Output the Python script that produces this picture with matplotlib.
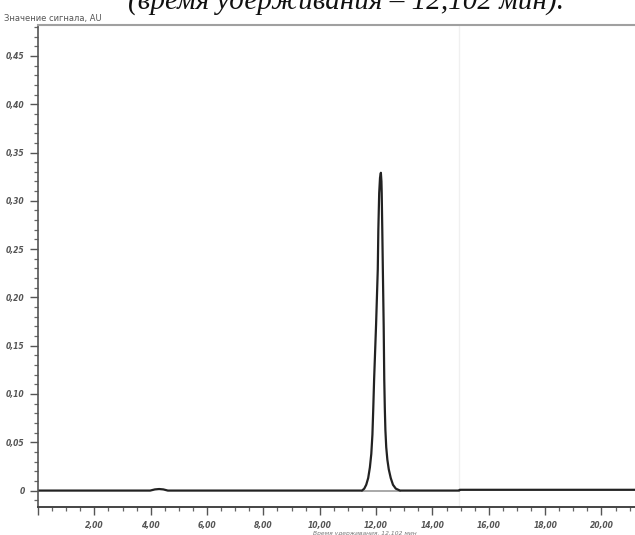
# chromatogram recreation: single peak at ~12.1 min
import matplotlib
matplotlib.use("Agg")
from matplotlib import pyplot as plt
from matplotlib.ticker import MultipleLocator, FuncFormatter

# trace points (time, min / signal, AU)
time = [0.0, 3.98, 4.15, 4.30, 4.45, 4.61,
        11.50, 11.58, 11.65, 11.72, 11.78, 11.83, 11.87, 11.90, 11.93,
        12.00, 12.06, 12.08, 12.11, 12.14,
        12.17,
        12.19, 12.20, 12.22, 12.24, 12.27, 12.29, 12.31, 12.33, 12.36, 12.40,
        12.45, 12.52, 12.60, 12.70, 12.85,
        14.95, 14.97, 21.3]
signal = [0.0, 0.0, 0.0012, 0.0016, 0.0012, 0.0,
          0.0, 0.002, 0.006, 0.013, 0.024, 0.038, 0.058, 0.085, 0.115,
          0.172, 0.229, 0.270, 0.308, 0.324,
          0.329,
          0.320, 0.308, 0.270, 0.229, 0.170, 0.115, 0.085, 0.063, 0.045, 0.032,
          0.022, 0.013, 0.006, 0.002, 0.0,
          0.0, 0.0008, 0.0008]

# integration baseline under the peak
base_t = [11.50, 12.85]
base_y = [0.0, 0.0]

title = "(время удерживания – 12,102 мин)."
ylabel = "Значение сигнала, AU"
xlabel = "Время удерживания, 12.102 мин"

fig = plt.figure(figsize=(6.35, 5.35), dpi=100)
ax = fig.add_axes([38 / 635, 1 - 507 / 535, 1 - 38 / 635, (507 - 25) / 535])

ax.plot(base_t, base_y, color="#9a9a9a", lw=1.2)
ax.plot(time, signal, color="#222222", lw=1.6, solid_joinstyle="round")
ax.axvline(14.95, color="#f0f0f0", lw=1, zorder=0)

ax.set_xlim(0, 21.19)
ax.set_ylim(-0.017, 0.482)

ax.spines["right"].set_visible(False)
ax.spines["top"].set_color("#a0a0a0")
ax.spines["top"].set_linewidth(1.5)
ax.spines["left"].set_color("#555555")
ax.spines["bottom"].set_color("#444444")
ax.spines["left"].set_linewidth(1.2)
ax.spines["bottom"].set_linewidth(1.4)

ax.xaxis.set_major_locator(MultipleLocator(2))
ax.xaxis.set_minor_locator(MultipleLocator(0.5))
ax.yaxis.set_major_locator(MultipleLocator(0.05))
ax.yaxis.set_minor_locator(MultipleLocator(0.01))

def comma_fmt(v, pos):
    if abs(v) < 1e-9:
        return "0"
    return ("%.2f" % v).replace(".", ",")

ax.xaxis.set_major_formatter(FuncFormatter(lambda v, p: "" if v < 1e-9 else comma_fmt(v, p)))
ax.yaxis.set_major_formatter(FuncFormatter(comma_fmt))

ax.tick_params(axis="both", which="major", length=6, width=1, color="#555555",
               labelsize=5.5, labelcolor="#555555")
ax.tick_params(axis="both", which="minor", length=3, width=0.9, color="#666666")
ax.tick_params(axis="x", which="major", pad=4)
for lab in ax.get_xticklabels() + ax.get_yticklabels():
    lab.set_fontstyle("italic")
    lab.set_fontweight("bold")

fig.text(128 / 635, 1 - 9.5 / 535, title, family="Liberation Serif",
         style="italic", fontsize=21, ha="left", va="baseline", color="#111111")
fig.text(4 / 635, 1 - 18 / 535, ylabel, fontsize=6, color="#555555",
         ha="left", va="center")
fig.text(313 / 635, 1 - 533 / 535, xlabel, fontsize=4.3, color="#777777",
         style="italic", ha="left", va="center")

fig.savefig("out.png", dpi=100)
